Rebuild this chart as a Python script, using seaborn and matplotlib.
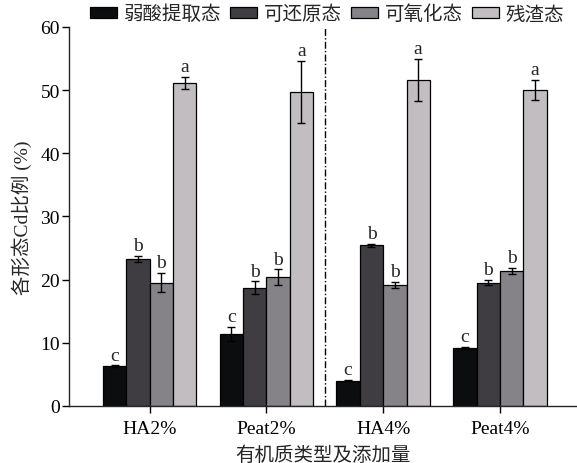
import matplotlib
matplotlib.use("Agg")
import matplotlib.pyplot as plt
import seaborn as sns
import pandas as pd

# Cd fractions (%) for each organic amendment and dose
treatments = ["HA2%", "Peat2%", "HA4%", "Peat4%"]
fractions = ["弱酸提取态", "可还原态", "可氧化态", "残渣态"]

acid_soluble = [6.3, 11.4, 4.0, 9.2]
reducible = [23.3, 18.7, 25.4, 19.5]
oxidizable = [19.5, 20.4, 19.1, 21.4]
residual = [51.1, 49.7, 51.6, 50.0]

acid_soluble_err = [0.1, 1.1, 0.1, 0.2]
reducible_err = [0.5, 1.0, 0.2, 0.4]
oxidizable_err = [1.5, 1.2, 0.5, 0.5]
residual_err = [1.0, 4.9, 3.3, 1.6]

acid_soluble_sig = ["c", "c", "c", "c"]
reducible_sig = ["b", "b", "b", "b"]
oxidizable_sig = ["b", "b", "b", "b"]
residual_sig = ["a", "a", "a", "a"]

colors = ["#0b0d0f", "#3f3d41", "#858387", "#c1bdc1"]

sns.set_style("ticks")
plt.rcParams["font.family"] = ["Liberation Serif", "Noto Sans CJK SC"]
plt.rcParams["font.size"] = 14
plt.rcParams["axes.linewidth"] = 1.0

values = [acid_soluble, reducible, oxidizable, residual]
errors = [acid_soluble_err, reducible_err, oxidizable_err, residual_err]
letters = [acid_soluble_sig, reducible_sig, oxidizable_sig, residual_sig]

df = pd.DataFrame({
    "treatment": [t for _ in fractions for t in treatments],
    "fraction": [f for f in fractions for _ in treatments],
    "value": [v for series in values for v in series],
})

fig = plt.figure(figsize=(5.77, 4.64), dpi=100)
ax = fig.add_axes([0.1196, 0.123, 0.8804, 0.817])

sns.barplot(data=df, x="treatment", y="value", hue="fraction",
            order=treatments, hue_order=fractions, palette=colors,
            width=0.8, errorbar=None, edgecolor="black", linewidth=0.9,
            saturation=1, ax=ax, legend=True)

for container, errs, sigs in zip(ax.containers, errors, letters):
    for bar, e, s in zip(container, errs, sigs):
        xc = bar.get_x() + bar.get_width() / 2
        h = bar.get_height()
        ax.errorbar(xc, h, yerr=e, color="black", elinewidth=1.0,
                    capsize=2.6, capthick=1.0, zorder=5)
        ax.text(xc, h + e + 0.3, s, ha="center", va="bottom", fontsize=14)

ax.axvline(1.5, color="black", linestyle=(0, (5, 1.6, 1, 1.6)),
           linewidth=1.0, zorder=1)

ax.set_ylim(0, 60)
ax.set_yticks(range(0, 61, 10))
ax.set_xlim(-0.69, 3.66)
ax.set_xlabel("有机质类型及添加量", fontsize=14, labelpad=6)
ax.set_ylabel("各形态Cd比例 (%)", fontsize=14, labelpad=6)
ax.tick_params(axis="both", direction="out", length=5, width=1.0,
               labelsize=14, colors="black")
ax.tick_params(axis="x", pad=5)
ax.tick_params(axis="y", pad=1.5)
sns.despine(ax=ax)

handles, labels = ax.get_legend_handles_labels()
ax.get_legend().remove()
fig.legend(handles, labels, loc="center", bbox_to_anchor=(0.567, 0.968),
           ncol=4, frameon=False, fontsize=14, handlelength=1.4,
           handleheight=0.5, handletextpad=0.35, columnspacing=0.45,
           borderaxespad=0, borderpad=0)

fig.savefig("out.png", dpi=100)
